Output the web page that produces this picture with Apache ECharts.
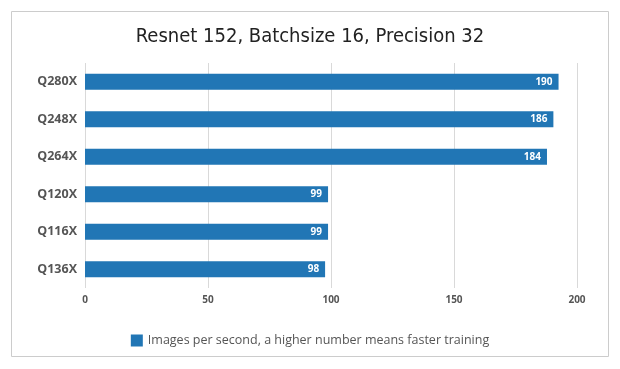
<!DOCTYPE html>
<html><head><meta charset="utf-8">
<script src="https://cdn.jsdelivr.net/npm/echarts@6/dist/echarts.min.js"></script>
<style>html,body{margin:0;padding:0;background:#fff}#c{width:620px;height:369px}</style>
</head><body><div id="c"></div>
<script>
const categories = ['Q280X','Q248X','Q264X','Q120X','Q116X','Q136X'];
const values = [192.5, 190.4, 187.8, 98.8, 98.8, 97.6];
const valueLabels = ['190','186','184','99','99','98'];
const xTicks = [0, 50, 100, 150, 200];
const seriesName = 'Images per second, a higher number means faster training';
const titleText = 'Resnet 152, Batchsize 16, Precision 32';

const chart = echarts.init(document.getElementById('c'), null, {renderer:'canvas'});
chart.setOption({
  animation: false,
  backgroundColor: '#fff',
  title: {
    text: titleText, left: 'center', top: 22,
    textStyle: {fontFamily: 'DejaVu Sans Condensed', fontWeight: 'normal', fontSize: 20, color: '#222'}
  },
  graphic: [{
    type: 'rect', shape: {x: 11.5, y: 11.5, width: 597, height: 345},
    style: {fill: 'none', stroke: '#cccccc', lineWidth: 1}, silent: true, z: -1
  }],
  legend: {
    bottom: 17, left: 'center', itemWidth: 12, itemHeight: 12, itemGap: 6,
    icon: 'rect',
    textStyle: {fontFamily: 'Open Sans', fontSize: 12.5, color: '#555'},
    data: [seriesName]
  },
  grid: {left: 85, right: 43, top: 63, height: 225, containLabel: false},
  xAxis: {
    type: 'value', min: xTicks[0], max: xTicks[xTicks.length-1], interval: 50,
    axisLine: {show: false}, axisTick: {show: false},
    splitLine: {show: true, lineStyle: {color: '#d9d9d9', width: 1}},
    axisLabel: {fontFamily: 'Open Sans', fontWeight: 'bold', fontSize: 10, color: '#555', margin: 7}
  },
  yAxis: {
    type: 'category', data: categories, inverse: true,
    axisLine: {show: false}, axisTick: {show: false},
    axisLabel: {fontFamily: 'Open Sans', fontWeight: 'bold', fontSize: 12.5, color: '#555', margin: 8}
  },
  series: [{
    name: seriesName, type: 'bar', data: values, barWidth: 16,
    itemStyle: {color: '#2176b5'},
    label: {
      show: true, position: 'insideRight', distance: 6,
      formatter: p => valueLabels[p.dataIndex],
      fontFamily: 'Open Sans', fontWeight: 'bold', fontSize: 10, color: '#fff'
    }
  }]
});
</script></body></html>
